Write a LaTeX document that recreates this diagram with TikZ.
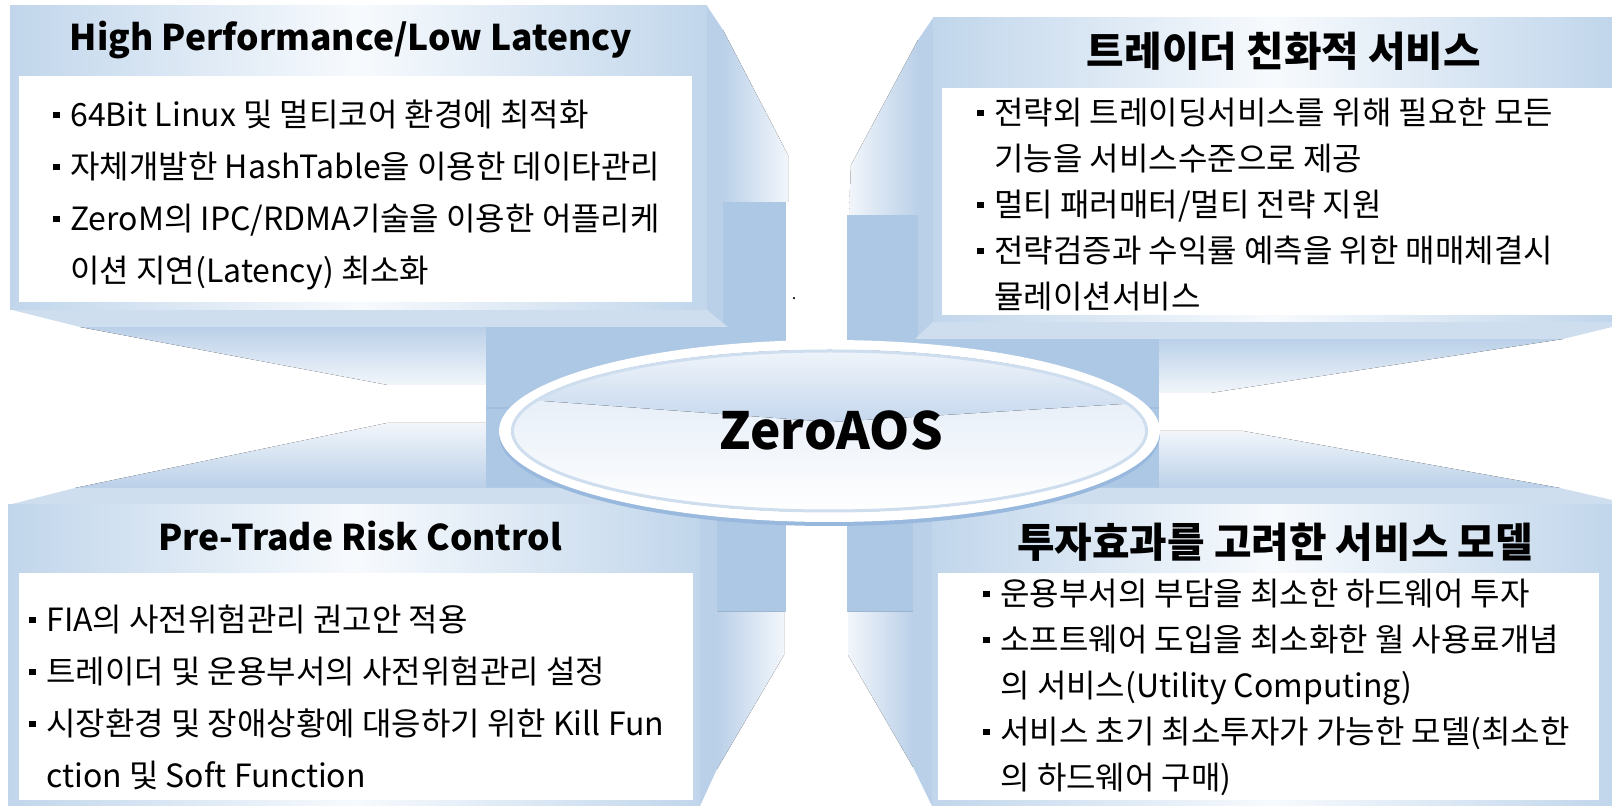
\documentclass[tikz,border=0pt]{standalone}
\usepackage{fontspec}
\setmainfont{Noto Sans CJK KR}
\usepackage{tikz}
\usetikzlibrary{positioning}
\definecolor{facecol}{RGB}{193,214,235}
\definecolor{facewhite}{RGB}{247,250,253}
\definecolor{sidecol}{RGB}{186,208,232}
\definecolor{bevelcol}{RGB}{206,222,239}
\definecolor{backcol}{RGB}{173,200,228}
\definecolor{backline}{RGB}{160,190,223}
\definecolor{shadowcol}{RGB}{152,184,222}
\definecolor{fadecol}{RGB}{242,246,251}
\definecolor{lenscol}{RGB}{198,216,238}

\newcommand{\sqbul}{\makebox[8.5pt][l]{\rule[4pt]{3.2pt}{3.2pt}}}
\newcommand{\contind}{\hspace*{8.5pt}}

\tikzset{
  front face/.style={left color=facecol, right color=facecol, middle color=facewhite},
  title text/.style={font=\fontsize{17.7}{22}\bfseries\selectfont, anchor=base, inner sep=0pt},
  title kr/.style={title text, font=\fontsize{20.4}{24}\bfseries\selectfont},
  body text/.style={font=\fontsize{16}{26}\selectfont, align=left, anchor=north west, inner sep=0pt},
  body tight/.style={body text, font=\fontsize{16}{23}\selectfont},
}

\begin{document}
\begin{tikzpicture}[x=0.5pt, y=-0.5pt]
\useasboundingbox (0,0) rectangle (1612,806);

% faces turned towards the middle
\fill[top color=sidecol, bottom color=fadecol] (80,327) -- (486,327) -- (486,385) -- (388,385) -- cycle;
\fill[top color=sidecol, bottom color=fadecol] (1159,339) -- (1563,339) -- (1210,393) -- (1159,393) -- cycle;
\fill[top color=fadecol, bottom color=sidecol] (387,423) -- (486,423) -- (486,488) -- (75,488) -- cycle;
\fill[top color=fadecol, bottom color=sidecol] (1159,431) -- (1243,431) -- (1560,488) -- (1159,488) -- cycle;

% blocks behind the oval
\fill[backcol] (486,202) rectangle (786,612);
\fill[backcol] (847,215) rectangle (1159,612);
\draw[backline, line width=0.8pt] (486,408) -- (786,408);
\draw[backline, line width=0.8pt] (847,408) -- (1159,408);

\fill[left color=sidecol, right color=fadecol] (723,30) -- (788,155) -- (788,202) -- (723,202) -- cycle;
\fill[left color=fadecol, right color=sidecol] (851,165) -- (918,40) -- (918,215) -- (849,215) -- cycle;
\fill[left color=sidecol, right color=fadecol] (717,612) -- (784,612) -- (784,655) -- (717,769) -- cycle;
\fill[left color=fadecol, right color=sidecol] (848,612) -- (913,612) -- (913,767) -- (848,655) -- cycle;

% top left panel
\fill[sidecol] (707,6) -- (723,30) -- (723,327) -- (707,310) -- cycle;
\fill[bevelcol] (12,310) -- (707,310) -- (728,327) -- (80,327) -- cycle;
\fill[front face] (10,6) rectangle (707,310);
\fill[white] (19,76) rectangle (692,302);

% top right panel
\fill[sidecol] (933,18) -- (918,40) -- (918,339) -- (933,322) -- cycle;
\fill[bevelcol] (933,322) -- (1612,322) -- (1612,327) -- (1563,339) -- (915,339) -- cycle;
\fill[front face] (933,18) rectangle (1612,322);
\fill[white] (942,88) rectangle (1612,315);

% bottom left panel
\fill[bevelcol] (8,505) -- (75,488) -- (717,488) -- (700,505) -- cycle;
\fill[sidecol] (700,505) -- (717,488) -- (717,769) -- (700,806) -- cycle;
\fill[front face] (8,505) rectangle (700,806);
\fill[white] (19,573) rectangle (693,800);

% bottom right panel
\fill[bevelcol] (913,488) -- (1560,488) -- (1612,500) -- (1612,505) -- (932,505) -- cycle;
\fill[sidecol] (913,488) -- (932,505) -- (932,806) -- (913,767) -- cycle;
\fill[front face] (932,505) rectangle (1612,806);
\fill[white] (938,573) rectangle (1599,800);

% the oval
\fill[shadowcol] (829.5,435) ellipse [x radius=330.5, y radius=91];
\fill[white] (829.5,431) ellipse [x radius=330.5, y radius=91];
\begin{scope}
  \clip (829.5,431) ellipse [x radius=318, y radius=81];
  \fill[top color=lenscol!60!white, bottom color=white] (499,350) rectangle (1160,512);
  \fill[top color=fadecol, bottom color=lenscol] (499,345) -- (1160,345) -- (1160,404) -- (1122,404) -- (831,422) -- (544,401) -- (499,401) -- cycle;
\end{scope}
\draw[bevelcol, line width=1.5pt] (829.5,431) ellipse [x radius=317, y radius=80];

% texts
\node (tl_title) [title text] at (351,51) {High Performance/Low Latency};
\node (tl_body) [body text] at (53,96) {\rule{0pt}{15pt}\sqbul 64Bit Linux 및 멀티코어 환경에 최적화\\
  \sqbul 자체개발한 HashTable을 이용한 데이타관리\\
  \sqbul ZeroM의 IPC/RDMA기술을 이용한 어플리케\\
  \contind 이션 지연(Latency) 최소화};

\node (tr_title) [title kr] at (1284,67) {트레이더 친화적 서비스};
\node (tr_body) [body tight] at (977,94) {\rule{0pt}{15pt}\sqbul 전략외 트레이딩서비스를 위해 필요한 모든\\
  \contind 기능을 서비스수준으로 제공\\
  \sqbul 멀티 패러매터/멀티 전략 지원\\
  \sqbul 전략검증과 수익률 예측을 위한 매매체결시\\
  \contind 뮬레이션서비스};

\node (bl_title) [title text] at (360,551) {Pre-Trade Risk Control};
\node (bl_body) [body text] at (29,601) {\rule{0pt}{15pt}\sqbul FIA의 사전위험관리 권고안 적용\\
  \sqbul 트레이더 및 운용부서의 사전위험관리 설정\\
  \sqbul 시장환경 및 장애상황에 대응하기 위한 Kill Fun\\
  \contind ction 및 Soft Function};

\node (br_title) [title kr] at (1275,558) {투자효과를 고려한 서비스 모델};
\node (br_body) [body tight] at (983,575) {\rule{0pt}{15pt}\sqbul 운용부서의 부담을 최소한 하드웨어 투자\\
  \sqbul 소프트웨어 도입을 최소화한 월 사용료개념\\
  \contind 의 서비스(Utility Computing)\\
  \sqbul 서비스 초기 최소투자가 가능한 모델(최소한\\
  \contind 의 하드웨어 구매)};

\node (center_name) [font=\fontsize{25.6}{30}\bfseries\selectfont, anchor=base, inner sep=0pt] at (831,450) {ZeroAOS};
\node (stray_dot) [font=\fontsize{8}{10}\selectfont, anchor=base, inner sep=0pt] at (794,300) {.};
\end{tikzpicture}
\end{document}
